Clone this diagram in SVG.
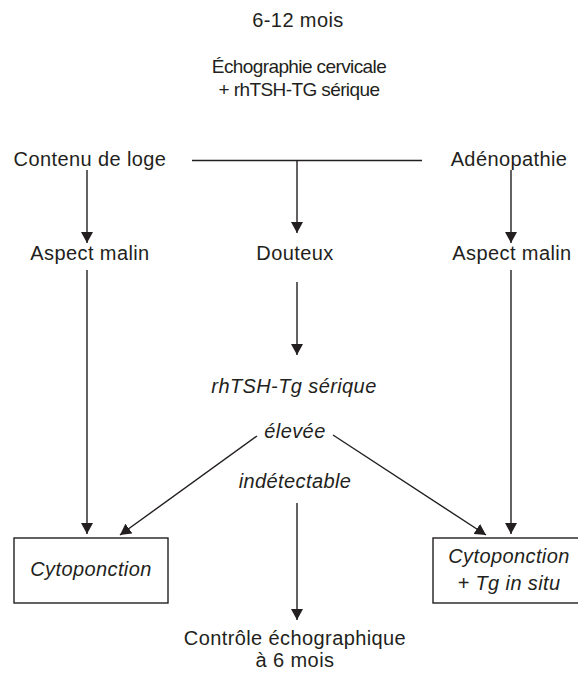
<svg xmlns="http://www.w3.org/2000/svg" width="578" height="674" viewBox="0 0 578 674">
<style>
text{font-family:"Liberation Sans",Arial,sans-serif;font-size:20px;fill:#231f20;text-anchor:middle;letter-spacing:0.4px}
.i{font-style:italic}
.s{font-size:19px;letter-spacing:-0.6px}
.ln{stroke:#231f20;stroke-width:1.4;fill:none}
.bx{fill:#fff;stroke:#231f20;stroke-width:1.4}
</style>
<defs>
<marker id="ah" markerUnits="userSpaceOnUse" markerWidth="12" markerHeight="12" refX="11" refY="6" orient="auto">
<path d="M0,0 L11,6 L0,12 z" fill="#231f20"/>
</marker>
</defs>
<rect width="578" height="674" fill="#fff"/>
<g id="connectors">
<line class="ln" x1="192" y1="160.5" x2="422" y2="160.5"/>
<line class="ln" x1="297" y1="160.5" x2="297" y2="233" marker-end="url(#ah)"/>
<line class="ln" x1="87" y1="170" x2="87" y2="243" marker-end="url(#ah)"/>
<line class="ln" x1="511" y1="170" x2="511" y2="243" marker-end="url(#ah)"/>
<line class="ln" x1="87" y1="270" x2="87" y2="534" marker-end="url(#ah)"/>
<line class="ln" x1="511" y1="270" x2="511" y2="534" marker-end="url(#ah)"/>
<line class="ln" x1="297" y1="282" x2="297" y2="355" marker-end="url(#ah)"/>
<line class="ln" x1="257" y1="436" x2="120" y2="535" marker-end="url(#ah)"/>
<line class="ln" x1="333" y1="435" x2="486" y2="535" marker-end="url(#ah)"/>
<line class="ln" x1="297" y1="503" x2="297" y2="620" marker-end="url(#ah)"/>
</g>
<g id="n-top">
<text x="298" y="27">6-12 mois</text>
<text class="s" x="299" y="73">Échographie cervicale</text>
<text class="s" x="299" y="96">+ rhTSH-TG sérique</text>
</g>
<g id="n-contenu"><text x="90" y="166">Contenu de loge</text></g>
<g id="n-adeno"><text x="509" y="166">Adénopathie</text></g>
<g id="n-aspect1"><text x="90" y="260">Aspect malin</text></g>
<g id="n-douteux"><text x="295" y="260">Douteux</text></g>
<g id="n-aspect2"><text x="512" y="260">Aspect malin</text></g>
<g id="n-rhtsh"><text class="i" x="294" y="393">rhTSH-Tg sérique</text></g>
<g id="n-elevee"><text class="i" x="295" y="438">élevée</text></g>
<g id="n-indet"><text class="i" x="295" y="488">indétectable</text></g>
<g id="n-cyto1">
<rect class="bx" x="14" y="538" width="154" height="65"/>
<text class="i" x="91" y="576">Cytoponction</text>
</g>
<g id="n-cyto2">
<rect class="bx" x="433" y="538" width="154" height="65"/>
<text class="i" x="509" y="563">Cytoponction</text>
<text class="i" x="509" y="590">+ Tg in situ</text>
</g>
<g id="n-controle">
<text x="295" y="645">Contrôle échographique</text>
<text x="295" y="667">à 6 mois</text>
</g>
</svg>
